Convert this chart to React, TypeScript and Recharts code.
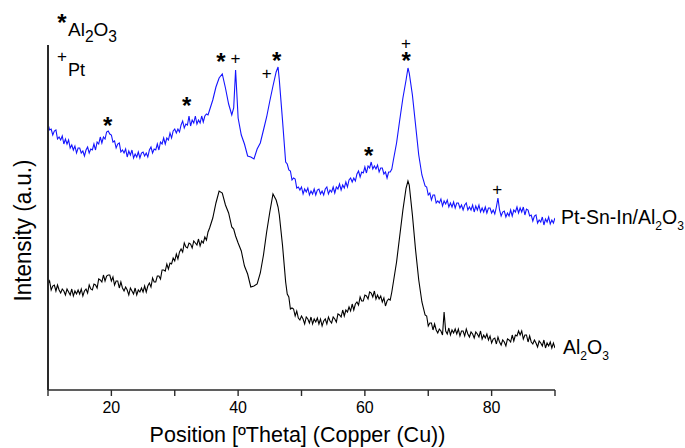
import { LineChart, Line, XAxis, YAxis, ReferenceDot, Label } from 'recharts'

const FONT = '"Liberation Sans", Arial, sans-serif'
const BLUE = '#1414ff'
const INK = '#000000'
const AXIS = '#2a2a2a'

// 2-theta positions (deg): 0.25 steps on the noisy background, coarser across the big reflections
const theta = [
  10, 10.25, 10.5, 10.75, 11, 11.25, 11.5, 11.75, 12, 12.25, 12.5, 12.75, 13, 13.25, 13.5, 13.75,
  14, 14.25, 14.5, 14.75, 15, 15.25, 15.5, 15.75, 16, 16.25, 16.5, 16.75, 17, 17.25, 17.5, 17.75,
  18, 18.25, 18.5, 18.75, 19, 19.25, 19.5, 19.75, 20, 20.25, 20.5, 20.75, 21, 21.25, 21.5, 21.75,
  22, 22.25, 22.5, 22.75, 23, 23.25, 23.5, 23.75, 24, 24.25, 24.5, 24.75, 25, 25.25, 25.5, 25.75,
  26, 26.25, 26.5, 26.75, 27, 27.25, 27.5, 27.75, 28, 28.25, 28.5, 28.75, 29, 29.25, 29.5, 29.75,
  30, 30.25, 30.5, 30.75, 31, 31.25, 31.5, 31.75, 32, 32.25, 32.5, 32.75, 33, 33.25, 33.5, 33.75,
  34, 34.25, 34.5, 34.75, 35, 35.25,
  35.5, 36, 36.5, 37, 37.5, 38, 38.5, 39, 39.3, 39.6, 40, 40.5, 41, 41.5, 42, 42.5, 43, 43.5, 44,
  44.5, 45, 45.5, 46, 46.3, 46.5, 47, 47.5,
  47.75, 48, 48.25, 48.5, 48.75, 49, 49.25, 49.5, 49.75, 50, 50.25, 50.5, 50.75, 51, 51.25, 51.5,
  51.75, 52, 52.25, 52.5, 52.75, 53, 53.25, 53.5, 53.75, 54, 54.25, 54.5, 54.75, 55, 55.25, 55.5,
  55.75, 56, 56.25, 56.5, 56.75, 57, 57.25, 57.5, 57.75, 58, 58.25, 58.5, 58.75, 59, 59.25, 59.5,
  59.75, 60, 60.25, 60.5, 60.75, 61, 61.25, 61.5, 61.75, 62, 62.25, 62.5, 62.75, 63, 63.25, 63.5,
  63.75, 64, 64.25,
  64.5, 65, 65.5, 66, 66.5, 66.8, 67, 67.5, 68, 68.5, 69, 69.5,
  69.75, 70, 70.25, 70.5, 70.75, 71, 71.25, 71.5, 71.75, 72, 72.25, 72.5, 72.75, 73, 73.25, 73.5,
  73.75, 74, 74.25, 74.5, 74.75, 75, 75.25, 75.5, 75.75, 76, 76.25, 76.5, 76.75, 77, 77.25, 77.5,
  77.75, 78, 78.25, 78.5, 78.75, 79, 79.25, 79.5, 79.75, 80, 80.25, 80.5, 80.75, 81, 81.25, 81.5,
  81.75, 82, 82.25, 82.5, 82.75, 83, 83.25, 83.5, 83.75, 84, 84.25, 84.5, 84.75, 85, 85.25, 85.5,
  85.75, 86, 86.25, 86.5, 86.75, 87, 87.25, 87.5, 87.75, 88, 88.25, 88.5, 88.75, 89, 89.25, 89.5,
  89.75, 90,
]

// Pt-Sn-In/Al2O3 (offset trace), a.u.
const ptSnIn = [
  266, 260, 261, 255, 259, 260, 251, 253, 250, 254, 246, 251, 246, 250, 242, 245,
  240, 244, 237, 242, 242, 237, 239, 234, 240, 243, 237, 241, 240, 246, 240, 248,
  246, 253, 247, 253, 251, 258, 259, 256, 255, 248, 249, 242, 246, 247, 238, 240,
  237, 241, 233, 239, 235, 240, 232, 236, 233, 238, 232, 237, 238, 234, 237, 233,
  240, 243, 237, 241, 240, 246, 240, 248, 246, 252, 246, 252, 250, 257, 252, 259,
  261, 257, 261, 258, 265, 269, 262, 266, 265, 274, 264, 270, 267, 274, 266, 270,
  267, 274, 268, 274, 276, 275,
  280, 290, 303, 312, 316, 302, 286, 275, 282, 320, 272, 255, 246, 234, 233, 231, 241, 247, 260,
  273, 289, 304, 318, 323, 310, 270, 228,
  226, 220, 219, 210, 212, 211, 202, 203, 200, 203, 196, 201, 198, 202, 195, 199,
  196, 201, 195, 200, 201, 196, 199, 195, 201, 203, 196, 200, 198, 203, 197, 203,
  201, 206, 200, 205, 202, 208, 203, 210, 212, 208, 212, 209, 216, 219, 213, 218,
  217, 223, 217, 224, 222, 228, 221, 224, 221, 225, 218, 222, 222, 216, 218, 212,
  218, 218, 221,
  230, 247, 270, 292, 310, 322, 317, 295, 265, 235, 215, 204,
  203, 195, 197, 190, 195, 195, 187, 189, 187, 191, 184, 189, 186, 190, 183, 187,
  183, 188, 182, 187, 187, 182, 185, 180, 185, 187, 180, 183, 180, 185, 178, 184,
  180, 185, 178, 182, 178, 183, 177, 182, 182, 177, 180, 176, 183, 192, 180, 174,
  178, 179, 173, 177, 174, 180, 174, 180, 178, 183, 177, 182, 178, 183, 175, 181,
  180, 174, 175, 169, 174, 175, 167, 170, 168, 173, 165, 171, 168, 173, 166, 170,
  167, 172,
]

// bare Al2O3 support, a.u.
const alumina = [
  106, 109, 100, 104, 105, 99, 105, 100, 97, 101, 99, 95, 101, 98, 95, 101,
  94, 99, 96, 100, 96, 101, 94, 99, 101, 97, 105, 101, 100, 106, 105, 102,
  111, 110, 108, 115, 109, 114, 115, 115, 109, 113, 105, 109, 109, 102, 108, 102,
  99, 103, 100, 95, 102, 99, 96, 102, 95, 100, 98, 102, 98, 104, 98, 104,
  107, 103, 112, 108, 108, 114, 114, 111, 120, 120, 119, 126, 121, 127, 126, 132,
  129, 136, 131, 138, 141, 138, 147, 143, 142, 147, 146, 142, 149, 147, 145, 151,
  144, 149, 147, 153, 150, 158,
  162, 172, 187, 199, 197, 185, 177, 163, 161, 154, 147, 139, 124, 116, 103, 104, 106, 117, 135,
  158, 178, 196, 190, 183, 175, 145, 108,
  96, 93, 81, 82, 81, 74, 79, 72, 70, 74, 71, 66, 73, 71, 67, 73,
  66, 71, 68, 72, 66, 71, 64, 69, 71, 66, 73, 69, 67, 73, 71, 68,
  76, 75, 73, 80, 74, 80, 78, 83, 79, 86, 80, 86, 88, 85, 93, 89,
  89, 95, 94, 91, 98, 97, 93, 99, 91, 95, 91, 94, 88, 92, 84, 89,
  91, 90, 98,
  108, 128, 154, 180, 202, 209, 205, 175, 140, 110, 88, 75,
  74, 64, 67, 67, 60, 66, 60, 57, 61, 59, 55, 78, 59, 56, 62, 55,
  60, 57, 61, 56, 61, 54, 59, 59, 54, 61, 56, 53, 58, 56, 52, 58,
  56, 53, 59, 51, 55, 52, 56, 50, 54, 47, 51, 52, 46, 53, 48, 45,
  50, 48, 44, 51, 50, 48, 55, 49, 55, 54, 59, 55, 59, 51, 55, 55,
  48, 54, 48, 46, 50, 47, 43, 49, 47, 44, 50, 42, 47, 44, 48, 42,
  47, 42,
]

const xTicks = [10, 20, 30, 40, 50, 60, 70, 80, 90]

// reflection markers: * = Al2O3, + = Pt
const markTheta = [19.4, 31.9, 37.3, 39.6, 44.5, 46.1, 60.6, 66.5, 66.5, 80.9]
const markLevel = [269, 289, 333, 332, 317, 334, 239, 347, 334, 201]
const markSymbol = ['*', '*', '*', '+', '+', '*', '*', '+', '*', '+']

const data = theta.map((t, i) => ({ theta: t, ptSnIn: ptSnIn[i], alumina: alumina[i] }))

function centre(vb: any) {
  return { cx: vb.x + vb.width / 2, cy: vb.y + vb.height / 2 }
}

function Star({ x, y, size = 24 }: { x: number; y: number; size?: number }) {
  return (
    <text x={x} y={y + size * 0.55} textAnchor="middle" fontSize={size} fontWeight="bold" fontFamily={FONT} fill={INK}>
      *
    </text>
  )
}

function Plus({ x, y, size = 17 }: { x: number; y: number; size?: number }) {
  return (
    <text x={x} y={y + size * 0.33} textAnchor="middle" fontSize={size} fontFamily={FONT} fill={INK}>
      +
    </text>
  )
}

function Al2O3({ size, sub = 0.62 }: { size: number; sub?: number }) {
  const s = size * sub
  return (
    <>
      <tspan>Al</tspan>
      <tspan fontSize={s} dy={size * 0.3}>2</tspan>
      <tspan dy={-size * 0.3}>O</tspan>
      <tspan fontSize={s} dy={size * 0.3}>3</tspan>
    </>
  )
}

export default function App() {
  const blueEnd = ptSnIn[ptSnIn.length - 1]
  const blackEnd = alumina[alumina.length - 1]

  return (
    <div style={{ position: 'absolute', left: 0, top: 0, width: 685, height: 448, background: '#fff' }}>
      <LineChart width={685} height={448} data={data} margin={{ top: 45, right: 130, bottom: 28, left: 46 }}>
        <XAxis
          dataKey="theta"
          type="number"
          domain={[10, 90]}
          ticks={xTicks}
          tickFormatter={(v) => (v % 20 === 0 ? String(v) : '')}
          height={30}
          tickSize={6}
          tickMargin={6}
          axisLine={{ stroke: AXIS, strokeWidth: 1.6 }}
          tickLine={{ stroke: AXIS, strokeWidth: 1.4 }}
          tick={{ fill: INK, fontSize: 16, fontFamily: FONT }}
          allowDataOverflow
        >
          <Label
            content={(p: any) => {
              const vb = p.viewBox
              return (
                <text x={vb.x + vb.width / 2 - 4} y={vb.y + 52} textAnchor="middle" fontSize={21.5} fontFamily={FONT} fill={INK}>
                  Position [ºTheta] (Copper (Cu))
                </text>
              )
            }}
          />
        </XAxis>
        <YAxis
          type="number"
          domain={[0, 345]}
          width={2}
          tick={false}
          tickLine={false}
          axisLine={{ stroke: AXIS, strokeWidth: 2 }}
          allowDataOverflow
        >
          <Label
            content={(p: any) => {
              const vb = p.viewBox
              const x = vb.x + vb.width - 17
              const y = vb.y + vb.height / 2 + 13
              return (
                <text
                  x={x}
                  y={y}
                  transform={`rotate(-90, ${x}, ${y})`}
                  textAnchor="middle"
                  fontSize={23}
                  textLength={142}
                  lengthAdjust="spacingAndGlyphs"
                  fontFamily={FONT}
                  fill={INK}
                >
                  Intensity (a.u.)
                </text>
              )
            }}
          />
        </YAxis>

        <Line dataKey="alumina" stroke={INK} strokeWidth={1.1} dot={false} isAnimationActive={false} />
        <Line dataKey="ptSnIn" stroke={BLUE} strokeWidth={1.1} dot={false} isAnimationActive={false} />

        {markTheta.map((t, i) => (
          <ReferenceDot
            key={i}
            x={t}
            y={markLevel[i]}
            r={1}
            fill="none"
            stroke="none"
            ifOverflow="visible"
            label={(p: any) => {
              const { cx, cy } = centre(p.viewBox)
              return markSymbol[i] === '*' ? <Star x={cx} y={cy} /> : <Plus x={cx} y={cy} />
            }}
          />
        ))}

        <ReferenceDot
          x={90}
          y={blueEnd}
          r={1}
          fill="none"
          stroke="none"
          ifOverflow="visible"
          label={(p: any) => {
            const { cx, cy } = centre(p.viewBox)
            return (
              <text x={cx + 6} y={cy + 6} fontSize={19.5} fontFamily={FONT} fill={INK}>
                Pt-Sn-In/<Al2O3 size={19.5} />
              </text>
            )
          }}
        />
        <ReferenceDot
          x={90}
          y={blackEnd}
          r={1}
          fill="none"
          stroke="none"
          ifOverflow="visible"
          label={(p: any) => {
            const { cx, cy } = centre(p.viewBox)
            return (
              <text x={cx + 8} y={cy + 6} fontSize={19.5} fontFamily={FONT} fill={INK}>
                <Al2O3 size={19.5} />
              </text>
            )
          }}
        />
      </LineChart>

      <svg width={685} height={90} style={{ position: 'absolute', left: 0, top: 0, pointerEvents: 'none' }}>
        <Star x={62} y={18} />
        <text x={68} y={36} fontSize={19} fontFamily={FONT} fill={INK}>
          <Al2O3 size={19} sub={0.82} />
        </text>
        <Plus x={62} y={56} />
        <text x={68} y={76} fontSize={18} fontFamily={FONT} fill={INK}>
          Pt
        </text>
      </svg>
    </div>
  )
}
